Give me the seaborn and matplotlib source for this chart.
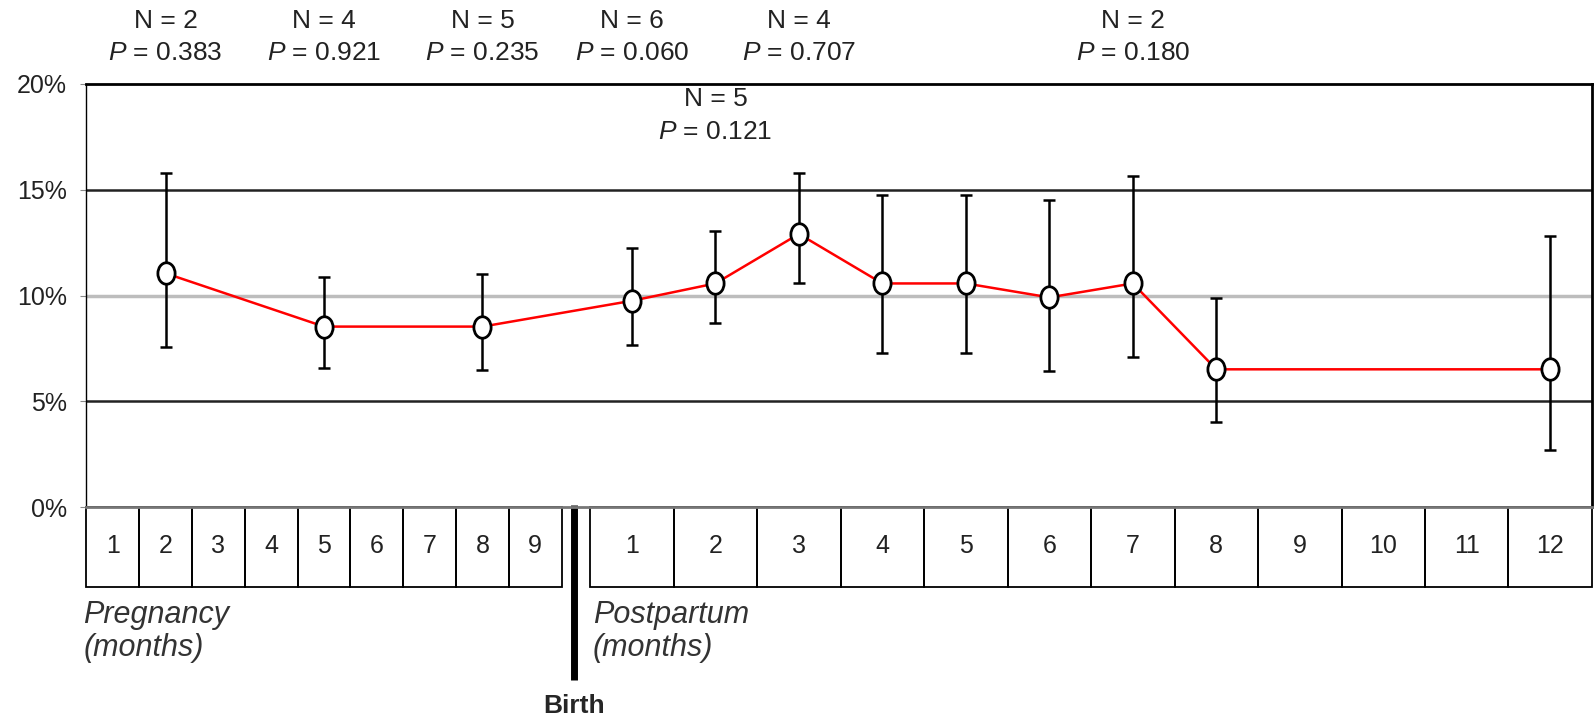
import numpy as np
import pandas as pd
import matplotlib
matplotlib.use("Agg")
import matplotlib.pyplot as plt
import seaborn as sns
from matplotlib.patches import Rectangle
from matplotlib.path import Path
from matplotlib.transforms import Affine2D

# ===== Data =====
preg_months = list(range(1, 10))
post_months = list(range(1, 13))

phase = ["Pregnancy"] * 3 + ["Postpartum"] * 9
month = [2, 5, 8, 1, 2, 3, 4, 5, 6, 7, 8, 12]
rate = [11.05, 8.53, 8.53, 9.75, 10.57, 12.91, 10.57, 10.57, 9.91, 10.57, 6.51, 6.51]
lower = [7.58, 6.56, 6.48, 7.66, 8.71, 10.57, 7.30, 7.30, 6.45, 7.11, 4.00, 2.70]
upper = [15.80, 10.89, 11.02, 12.26, 13.05, 15.80, 14.75, 14.75, 14.50, 15.67, 9.90, 12.83]

ann_phase = ["Pregnancy", "Pregnancy", "Pregnancy", "Postpartum", "Postpartum", "Postpartum", "Postpartum"]
ann_month = [2, 5, 8, 1, 3, 7, 2]
ann_n = [2, 4, 5, 6, 4, 2, 5]
ann_p = ["0.383", "0.921", "0.235", "0.060", "0.707", "0.180", "0.121"]
ann_inside = [False, False, False, False, False, False, True]

y_ticks = [0, 5, 10, 15, 20]

# ===== Layout of the month strip (units = one pregnancy cell) =====
PREG_W = 1.0
POST_W = 1.581
GAP = 0.54
POST_START = 9 * PREG_W + GAP
X_MAX = POST_START + 12 * POST_W
BIRTH_X = 9.23
STRIP_H = 3.78


def xpos(ph, m):
    if ph == "Pregnancy":
        return (m - 0.5) * PREG_W
    return POST_START + (m - 0.5) * POST_W


df = pd.DataFrame({"phase": phase, "month": month, "rate": rate,
                   "lower": lower, "upper": upper})
df["x"] = [xpos(p, m) for p, m in zip(df["phase"], df["month"])]

sns.set_style("white")
plt.rcParams["font.family"] = ["Liberation Sans", "DejaVu Sans"]
plt.rcParams["mathtext.fontset"] = "custom"
plt.rcParams["mathtext.it"] = "Liberation Sans:italic"
plt.rcParams["mathtext.rm"] = "Liberation Sans"

fig = plt.figure(figsize=(15.95, 7.21), dpi=100)
ax = fig.add_axes([0.0542, 0.2968, 0.9439, 0.5867])

# horizontal reference lines
ax.axhline(5, color="#222222", lw=1.8, zorder=1)
ax.axhline(15, color="#222222", lw=1.8, zorder=1)
ax.axhline(10, color="#bdbdbd", lw=2.5, zorder=1)

# error bars
ax.errorbar(df["x"], df["rate"],
            yerr=[df["rate"] - df["lower"], df["upper"] - df["rate"]],
            fmt="none", ecolor="black", elinewidth=1.8, capsize=4.5,
            capthick=1.8, zorder=3)

# red line with open oval markers
oval = Affine2D().scale(0.8, 1.0).transform_path(Path.unit_circle())
sns.lineplot(data=df, x="x", y="rate", color="red", lw=1.8, ax=ax,
             marker=oval, markersize=15.5, markerfacecolor="white",
             markeredgecolor="black", markeredgewidth=2, zorder=4)

ax.set_xlim(0, X_MAX)
ax.set_ylim(0, 20)
ax.set_xticks([])
ax.set_yticks(y_ticks)
ax.set_yticklabels([f"{t}%" for t in y_ticks])
ax.tick_params(axis="y", left=True, length=4, color="#888888",
               labelsize=18, pad=10, labelcolor="#222222")
ax.set_xlabel("")
ax.set_ylabel("")

for side in ["left", "right", "top"]:
    ax.spines[side].set_color("black")
ax.spines["left"].set_linewidth(1.0)
ax.spines["right"].set_linewidth(2.0)
ax.spines["top"].set_linewidth(2.0)
ax.spines["bottom"].set_color("#777777")
ax.spines["bottom"].set_linewidth(2.0)

# month strip below the axis
for m in preg_months:
    cx = xpos("Pregnancy", m)
    ax.add_patch(Rectangle((cx - PREG_W / 2, -STRIP_H), PREG_W, STRIP_H,
                           fill=False, ec="black", lw=1.3, clip_on=False))
    ax.text(cx, -1.85, str(m), ha="center", va="center", fontsize=18,
            color="#222222", clip_on=False)
for m in post_months:
    cx = xpos("Postpartum", m)
    ax.add_patch(Rectangle((cx - POST_W / 2, -STRIP_H), POST_W, STRIP_H,
                           fill=False, ec="black", lw=1.3, clip_on=False))
    ax.text(cx, -1.85, str(m), ha="center", va="center", fontsize=18,
            color="#222222", clip_on=False)

ax.plot([BIRTH_X, BIRTH_X], [0.1, -8.18], color="black", lw=5,
        solid_capstyle="butt", clip_on=False)
ax.text(BIRTH_X, -9.4, "Birth", ha="center", va="center", fontsize=19,
        fontweight="bold", clip_on=False)

ax.text(-0.06, -5.1, "Pregnancy", ha="left", va="center", fontsize=22,
        style="italic", color="#333333", clip_on=False)
ax.text(-0.06, -6.67, "(months)", ha="left", va="center", fontsize=22,
        style="italic", color="#333333", clip_on=False)
ax.text(POST_START + 0.05, -5.1, "Postpartum", ha="left", va="center",
        fontsize=22, style="italic", color="#333333", clip_on=False)
ax.text(POST_START + 0.05, -6.67, "(months)", ha="left", va="center",
        fontsize=22, style="italic", color="#333333", clip_on=False)

# N / P annotations
for ph, m, n, p, inside in zip(ann_phase, ann_month, ann_n, ann_p, ann_inside):
    cx = xpos(ph, m)
    y_n, y_p = (19.27, 17.73) if inside else (23.0, 21.47)
    ax.text(cx, y_n, f"N = {n}", ha="center", va="center", fontsize=19,
            color="#222222", clip_on=False)
    ax.text(cx, y_p, f"$P$ = {p}", ha="center", va="center", fontsize=19,
            color="#222222", clip_on=False)

plt.savefig("out.png", dpi=100)
plt.close()
